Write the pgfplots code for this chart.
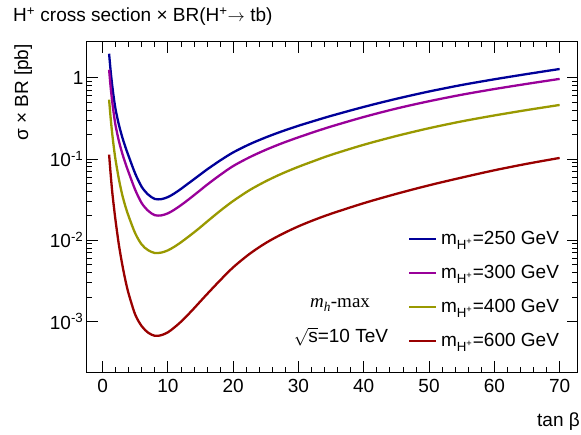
\documentclass[border=0pt]{standalone}
\usepackage{pgfplots}
\pgfplotsset{compat=1.18}
\usepackage{pgfplotstable}
\usepackage{fontspec}
\setmainfont{Liberation Sans}
\newfontfamily\seriffont{Liberation Serif}
\newcommand{\fs}{\fontsize{19}{22}\selectfont}
\definecolor{cblue}{RGB}{0,0,153}
\definecolor{cmag}{RGB}{153,0,153}
\definecolor{colive}{RGB}{153,153,0}
\definecolor{cred}{RGB}{153,0,0}

\pgfplotstableread{
t     b        m        o         r
1     1.972    1.253    0.5358    0.1130
1.25  1.180    0.7447   0.3105    0.06324
1.5   0.7762   0.4898   0.1972    0.03784
1.75  0.5445   0.3436   0.1337    0.02512
2     0.4046   0.2553   0.09594   0.01710
2.5   0.2630   0.1660   0.05623   0.008750
3     0.1871   0.1180   0.03648   0.005082
3.5   0.1396   0.08810  0.02600   0.003199
4     0.1079   0.06808  0.01963   0.002178
5     0.06592  0.04159  0.01213   0.001213
6     0.04519  0.02851  0.008810  0.0008710
7     0.03631  0.02291  0.007499  0.0007244
8     0.03214  0.02028  0.006950  0.0006637
9     0.03199  0.02018  0.007031  0.0006761
10    0.03388  0.02138  0.007482  0.0007328
11    0.03758  0.02371  0.008299  0.0008414
12    0.04266  0.02692  0.009397  0.0009886
13    0.04898  0.03090  0.01079   0.001189
14    0.05623  0.03573  0.01245   0.001445
15    0.06457  0.04140  0.01445   0.001770
16    0.07413  0.04808  0.01690   0.002163
18    0.09550  0.06339  0.02291   0.003199
20    0.1202   0.08166  0.03034   0.004624
22.5  0.1514   0.1047   0.04121   0.006761
25    0.1841   0.1294   0.05309   0.009226
27.5  0.2188   0.1560   0.06607   0.01189
30    0.2559   0.1845   0.07998   0.01479
32.5  0.2951   0.2158   0.09506   0.01786
35    0.3388   0.2506   0.1122    0.02113
40    0.4365   0.3281   0.1493    0.02851
45    0.5495   0.4169   0.1914    0.03715
50    0.6761   0.5129   0.2388    0.04732
55    0.8128   0.6166   0.2897    0.05888
60    0.9550   0.7244   0.3428    0.07244
65    1.109    0.8395   0.3999    0.08710
70    1.279    0.9661   0.4613    0.1028
}\xsec

\begin{document}
\begin{tikzpicture}[font=\fs]
\useasboundingbox (0,0) rectangle (581pt,434pt);
\begin{axis}[
  at={(86.9pt,61.7pt)}, anchor=south west,
  scale only axis, width=491pt, height=330.3pt,
  xmin=-2.4, xmax=72.8,
  ymode=log, ymin=2.36e-4, ymax=2.75,
  xtick={0,10,...,70}, minor x tick num=4,
  ytick={0.001,0.01,0.1,1},
  yticklabels={10\textsuperscript{-3},10\textsuperscript{-2},10\textsuperscript{-1},1},
  tick align=inside, xtick pos=both, ytick pos=both,
  major tick length=11pt, minor tick length=5.5pt,
  axis line style={line width=1pt},
  every tick/.style={black, line width=0.8pt},
  tick label style={font=\fs},
  xticklabel style={yshift=-3pt},
  /pgf/number format/assume math mode=true,
  legend cell align=left,
  legend image code/.code={\draw[#1, line width=2.3pt] (0pt,0pt) -- (27pt,0pt);},
  legend style={at={(axis description cs:0.654,0.438)}, anchor=north west,
    draw=none, fill=none, font=\fs, row sep=12.3pt, inner sep=0pt,
    nodes={inner sep=3.5pt},
    /tikz/every even column/.append style={column sep=0pt}},
]
\addplot[cblue, line width=2.3pt, smooth] table[x=t, y=b] {\xsec};
\addlegendentry{m\textsubscript{H\textsuperscript{+}}=250 GeV}
\addplot[cmag, line width=2.3pt, smooth] table[x=t, y=m] {\xsec};
\addlegendentry{m\textsubscript{H\textsuperscript{+}}=300 GeV}
\addplot[colive, line width=2.3pt, smooth] table[x=t, y=o] {\xsec};
\addlegendentry{m\textsubscript{H\textsuperscript{+}}=400 GeV}
\addplot[cred, line width=2.3pt, smooth] table[x=t, y=r] {\xsec};
\addlegendentry{m\textsubscript{H\textsuperscript{+}}=600 GeV}
\end{axis}
\node[anchor=base west, inner sep=0pt] at (13pt,412pt) {H\textsuperscript{+} cross section \texttimes{} BR(H\textsuperscript{+}$\rightarrow$ tb)};
\node[rotate=90, anchor=base east, inner sep=0pt] at (28pt,390pt) {σ \texttimes{} BR [pb]};
\node[anchor=base east, inner sep=0pt] at (580pt,7.5pt) {tan β};
\node[anchor=base, inner sep=0pt] at (340pt,126pt) {{\seriffont\itshape m}\textsubscript{\seriffont\itshape h}{\seriffont -max}};
\node[anchor=base, inner sep=0pt] at (341pt,91.3pt) {$\sqrt{\mbox{s}}$=10 TeV};
\end{tikzpicture}
\end{document}
